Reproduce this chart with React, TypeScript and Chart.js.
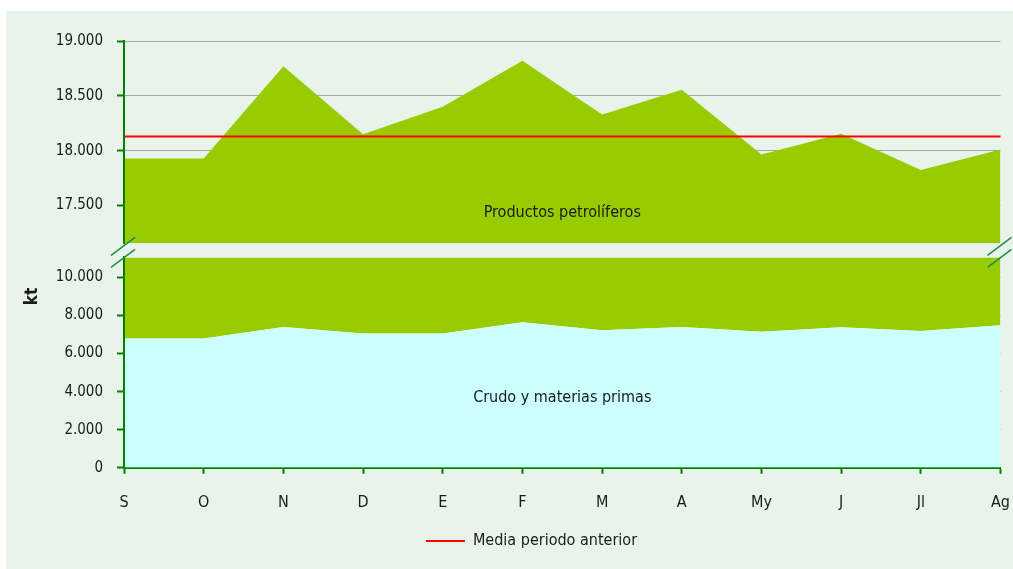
import React, { useEffect, useRef } from 'react';
import { Chart, registerables } from 'chart.js';

const months = ['S', 'O', 'N', 'D', 'E', 'F', 'M', 'A', 'My', 'J', 'Jl', 'Ag'];
const crudo = [6790, 6790, 7400, 7050, 7050, 7640, 7225, 7400, 7140, 7380, 7190, 7490];
const total = [17930, 17930, 18770, 18150, 18400, 18820, 18330, 18555, 17965, 18155, 17825, 18010];
const media = [18130, 18130, 18130, 18130, 18130, 18130, 18130, 18130, 18130, 18130, 18130, 18130];
const topTicks = [17500, 18000, 18500, 19000];
const bottomTicks = [0, 2000, 4000, 6000, 8000, 10000];
const topMin = 17155;
const topMax = 19000;
const bottomMin = 0;
const bottomMax = 11050;

const FONT = "'DejaVu Sans Condensed', 'DejaVu Sans', sans-serif";
const GREEN = '#99CC00';
const CYAN = '#CCFFFF';
const AXIS = '#008000';
const GRID = '#A0A8A0';
const TEXT = '#1A1A1A';

const fmt = (v: number) => String(v).replace(/\B(?=(\d{3})+(?!\d))/g, '.');

const scaleClip = {
  id: 'scaleClip',
  beforeDatasetDraw(chart: any, args: any) {
    const s = args.meta.yScale;
    const a = chart.chartArea;
    const ctx = chart.ctx;
    ctx.save();
    ctx.beginPath();
    ctx.rect(a.left - 2, s.top, a.right - a.left + 4, s.bottom - s.top);
    ctx.clip();
  },
  afterDatasetDraw(chart: any) {
    chart.ctx.restore();
  },
};

Chart.register(scaleClip);
Chart.register(...registerables);

const decor = {
  id: 'decor',
  afterLayout(chart: any) {
    const lg = chart.legend;
    if (lg) lg.left += 56;
  },
  afterDatasetsDraw(chart: any) {
    const ctx = chart.ctx;
    const a = chart.chartArea;
    const yT = chart.scales.yT;
    const yB = chart.scales.yB;
    ctx.save();
    // y axis borders over the fills
    ctx.strokeStyle = AXIS;
    ctx.lineWidth = 2;
    ctx.beginPath();
    ctx.moveTo(a.left, yT.top);
    ctx.lineTo(a.left, yT.bottom);
    ctx.moveTo(a.left, yB.top);
    ctx.lineTo(a.left, yB.bottom);
    ctx.stroke();
    // break marks
    ctx.strokeStyle = '#1E8C4E';
    ctx.lineWidth = 1.5;
    for (const x of [a.left, a.right]) {
      ctx.beginPath();
      ctx.moveTo(x - 13, yT.bottom + 12);
      ctx.lineTo(x + 11, yT.bottom - 6);
      ctx.moveTo(x - 13, yB.top + 10);
      ctx.lineTo(x + 11, yB.top - 8);
      ctx.stroke();
    }
    // area labels
    ctx.fillStyle = TEXT;
    ctx.font = `16px ${FONT}`;
    ctx.textAlign = 'center';
    ctx.textBaseline = 'middle';
    const cx = (a.left + a.right) / 2;
    ctx.fillText('Productos petrolíferos', cx, yT.bottom - 31);
    ctx.fillText('Crudo y materias primas', cx, yB.bottom - 70);
    // axis title
    ctx.font = `bold 17px ${FONT}`;
    ctx.translate(27, yB.top + 39);
    ctx.rotate(-Math.PI / 2);
    ctx.fillText('kt', 0, 0);
    ctx.restore();
  },
};

export default function App() {
  const ref = useRef<HTMLCanvasElement | null>(null);
  useEffect(() => {
    if (!ref.current) return;
    const setWidth = (s: any) => {
      s.width = 118;
    };
    const yTickOpts = {
      color: TEXT,
      font: { family: FONT, size: 15 },
      padding: 14,
      callback: (v: any) => fmt(Number(v)),
    };
    const yGrid = { color: GRID, lineWidth: 1, tickLength: 7, tickWidth: 2, tickColor: AXIS };
    const chart = new Chart(ref.current, {
      type: 'line',
      data: {
        labels: months,
        datasets: [
          {
            label: 'Media periodo anterior',
            data: media,
            yAxisID: 'yT',
            borderColor: '#FF0000',
            backgroundColor: '#FF0000',
            borderWidth: 2,
            pointRadius: 0,
            fill: false,
          },
          {
            label: 'Crudo y materias primas',
            data: crudo,
            yAxisID: 'yB',
            borderWidth: 0,
            borderColor: CYAN,
            backgroundColor: CYAN,
            pointRadius: 0,
            fill: 'origin',
          },
          {
            label: 'Productos petrolíferos',
            data: total,
            yAxisID: 'yB',
            borderWidth: 0,
            borderColor: GREEN,
            backgroundColor: GREEN,
            pointRadius: 0,
            fill: '-1',
          },
          {
            label: 'Productos petrolíferos (total)',
            data: total,
            yAxisID: 'yT',
            borderWidth: 0,
            borderColor: GREEN,
            backgroundColor: GREEN,
            pointRadius: 0,
            fill: 'start',
          },
        ],
      },
      options: {
        animation: false,
        responsive: false,
        maintainAspectRatio: false,
        layout: { padding: { left: 0, right: 12, top: 30, bottom: 10 } },
        plugins: {
          tooltip: { enabled: false },
          legend: {
            position: 'bottom',
            labels: {
              filter: (item: any) => item.datasetIndex === 0,
              usePointStyle: true,
              pointStyle: 'line',
              pointStyleWidth: 39,
              boxHeight: 2,
              color: TEXT,
              font: { family: FONT, size: 16 },
              padding: 2,
            },
          },
        },
        scales: {
          x: {
            z: 1,
            offset: false,
            border: { display: true, color: AXIS, width: 2 },
            grid: {
              display: true,
              drawOnChartArea: false,
              drawTicks: true,
              tickLength: 6,
              tickWidth: 2,
              tickColor: AXIS,
            },
            ticks: {
              color: TEXT,
              font: { family: FONT, size: 16, lineHeight: 3.2 },
              padding: 3,
              maxRotation: 0,
              autoSkip: false,
            },
          },
          yB: {
            type: 'linear',
            position: 'left',
            stack: 'y',
            stackWeight: 211,
            min: bottomMin,
            max: bottomMax,
            afterFit: setWidth,
            afterBuildTicks: (s: any) => {
              s.ticks = bottomTicks.map((v) => ({ value: v }));
            },
            border: { display: true, color: AXIS, width: 2 },
            grid: yGrid,
            ticks: yTickOpts,
          },
          yGap: {
            type: 'linear',
            position: 'left',
            stack: 'y',
            stackWeight: 14,
            afterFit: setWidth,
            border: { display: false },
            grid: { display: false },
            ticks: { display: false },
          },
          yT: {
            type: 'linear',
            position: 'left',
            stack: 'y',
            stackWeight: 203,
            min: topMin,
            max: topMax,
            afterFit: setWidth,
            afterBuildTicks: (s: any) => {
              s.ticks = topTicks.map((v) => ({ value: v }));
            },
            border: { display: true, color: AXIS, width: 2 },
            grid: yGrid,
            ticks: yTickOpts,
          },
        },
      } as any,
      plugins: [decor],
    });
    return () => chart.destroy();
  }, []);

  return (
    <div
      style={{
        position: 'absolute',
        left: 6,
        top: 11,
        width: 1007,
        height: 558,
        background: '#E8F3E9',
      }}
    >
      <canvas ref={ref} width={1007} height={558} style={{ display: 'block', width: 1007, height: 558 }} />
    </div>
  );
}
